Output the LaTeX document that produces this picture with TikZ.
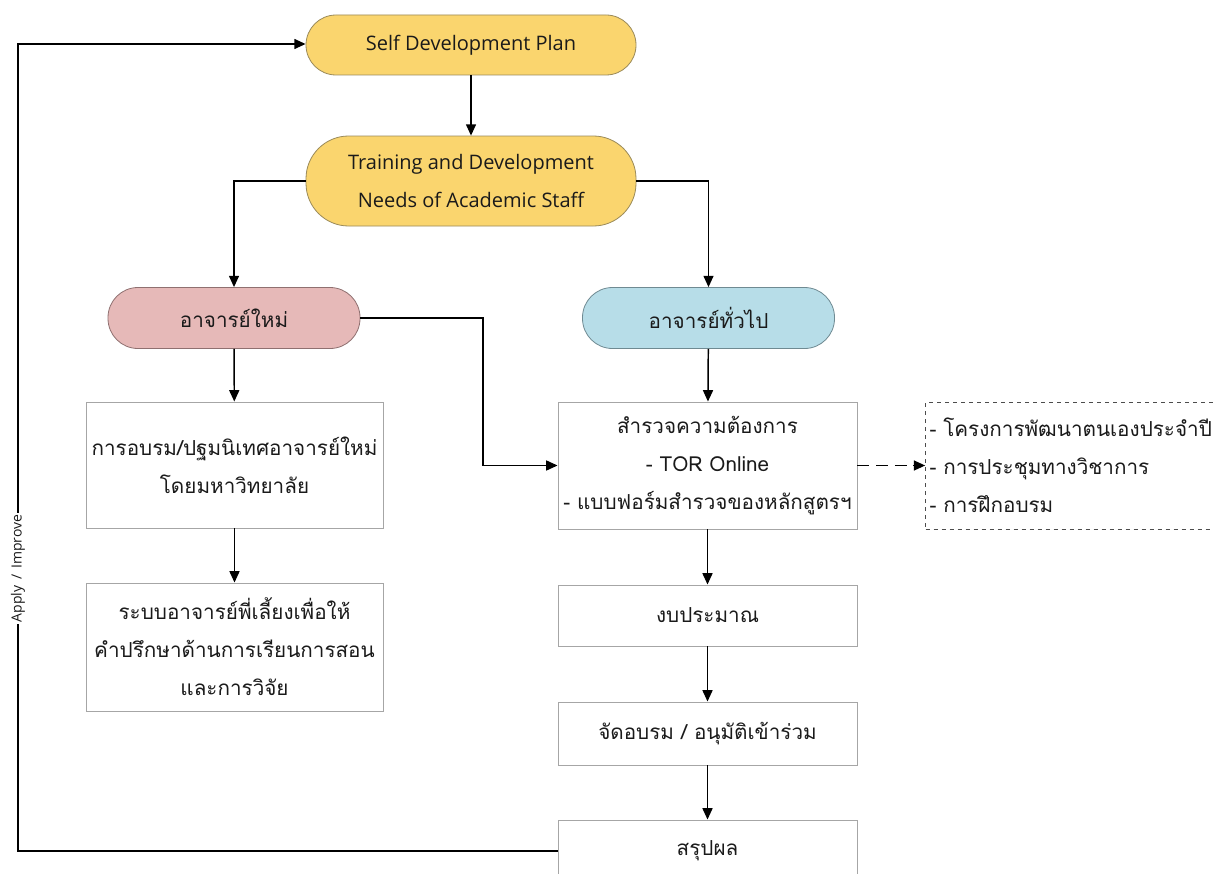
\documentclass[tikz,border=0pt]{standalone}
\usepackage{fontspec}
\setmainfont{Open Sans}
\newfontfamily\thaifont[Script=Thai]{Loma}
\usetikzlibrary{arrows.meta}
\definecolor{yel}{HTML}{FAD56E}
\definecolor{yelb}{HTML}{9A8A5A}
\definecolor{pnk}{HTML}{E6B9B8}
\definecolor{pnkb}{HTML}{8F7070}
\definecolor{blu}{HTML}{B7DDE8}
\definecolor{blub}{HTML}{6F8A92}
\definecolor{boxb}{HTML}{A6A6A6}
\definecolor{txt}{HTML}{1A1A1A}
\tikzset{
  arr/.style={draw=black,line width=1.1pt,-{Triangle[length=8.5pt,width=7.5pt]}},
  pill/.style={draw,line width=0.6pt,rounded corners=22.5pt,inner sep=0pt,align=center,text=txt,font=\fontsize{15}{28}\selectfont},
  stepbox/.style={draw=boxb,fill=white,line width=0.7pt,inner sep=0pt,align=center,text=txt,minimum width=224.25pt,font=\thaifont\fontsize{15.5}{28.5}\selectfont},
  lbl/.style={fill=white,inner sep=1pt,rotate=90,font=\fontsize{10.5}{12}\selectfont,text=txt}
}
\begin{document}
\begin{tikzpicture}[x=0.75pt,y=-0.75pt]
\useasboundingbox (0,0) rectangle (1213,874);
\clip (0,0) rectangle (1213,874);
\fill[white] (0,0) rectangle (1213,874);
% pills
\node[pill,fill=yel,draw=yelb,minimum width=247.5pt,minimum height=45pt] (sdp) at (471,45) {Self Development Plan};
\node[pill,fill=yel,draw=yelb,minimum width=247.5pt,minimum height=67.5pt,rounded corners=32pt] (tr) at (471,181) {Training and Development\\Needs of Academic Staff};
\node[pill,fill=pnk,draw=pnkb,minimum width=189pt,minimum height=45.75pt,font=\thaifont\fontsize{15.5}{28}\selectfont] (np) at (234,318) {อาจารย์ใหม่};
\node[pill,fill=blu,draw=blub,minimum width=189pt,minimum height=45.75pt,font=\thaifont\fontsize{15.5}{28}\selectfont] (gp) at (708.5,318) {อาจารย์ทั่วไป};
% left boxes
\node[stepbox,minimum width=222.75pt,minimum height=94.5pt] (l1) at (234.5,465) {การอบรม/ปฐมนิเทศอาจารย์ใหม่\\โดยมหาวิทยาลัย};
\node[stepbox,minimum width=222.75pt,minimum height=96pt] (l2) at (234.5,647) {ระบบอาจารย์พี่เลี้ยงเพื่อให้\\คำปรึกษาด้านการเรียนการสอน\\และการวิจัย};
% right boxes
\node[stepbox,minimum height=95.25pt] (r1) at (707.5,465.5) {สำรวจความต้องการ\\- TOR Online\\- แบบฟอร์มสำรวจของหลักสูตรฯ};
\node[stepbox,minimum height=45.75pt] (r2) at (707.5,615.5) {งบประมาณ};
\node[stepbox,minimum height=47.25pt] (r3) at (707.5,733.5) {จัดอบรม / อนุมัติเข้าร่วม};
\node[stepbox,minimum height=46.5pt] (r4) at (707.5,851) {สรุปผล};
% dashed box (runs past the right edge)
\node[draw=black!70,dashed,line width=0.5pt,inner xsep=3pt,inner ysep=0pt,text width=216pt,minimum height=95.25pt,align=left,text=txt,font=\thaifont\fontsize{15.5}{28.5}\selectfont] (db) at (1073.5,465.5) {- โครงการพัฒนาตนเองประจำปี\\- การประชุมทางวิชาการ\\- การฝึกอบรม};
% connectors
\draw[arr] (sdp) -- (tr);
\draw[arr] (tr.west) -| (np.north);
\draw[arr] (tr.east) -| (gp.north);
\draw[arr] (np) -- (l1);
\draw[arr] (l1) -- (l2);
\coordinate (j1) at (483,318);
\draw[arr] (np.east) -- (j1) |- (r1.west);
\draw[arr] (gp) -- (r1);
\draw[arr,dashed,dash pattern=on 9pt off 5pt] (r1.east) -- (db.west);
\draw[arr] (r1) -- (r2);
\draw[arr] (r2) -- (r3);
\draw[arr] (r3) -- (r4);
\coordinate (c1) at (18,851);
\coordinate (c2) at (18,44);
\draw[arr] (r4.west) -- (c1) -- node[lbl,pos=0.35]{Apply\, /\, Improve} (c2) -- (c2 -| sdp.west);
\end{tikzpicture}
\end{document}
